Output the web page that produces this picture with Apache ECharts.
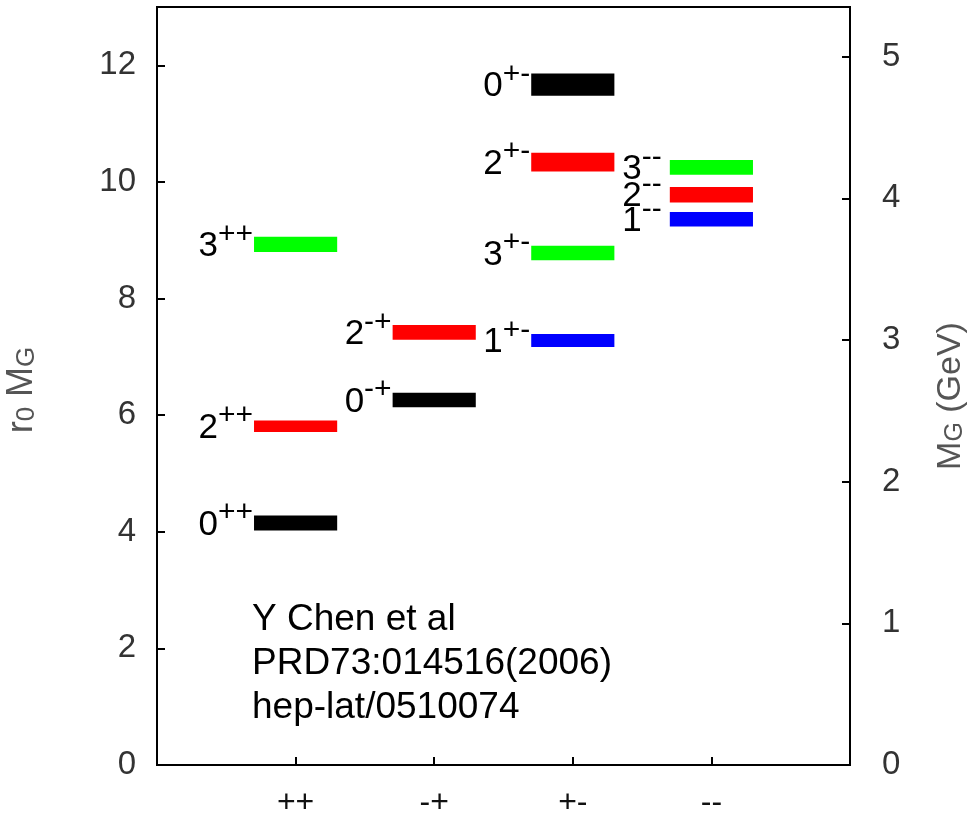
<!DOCTYPE html>
<html>
<head>
<meta charset="utf-8">
<script src="https://cdn.jsdelivr.net/npm/echarts@6/dist/echarts.min.js"></script>
<style>
html,body{margin:0;padding:0;background:#fff;overflow:hidden;}
#chart{width:973px;height:819px;}
</style>
</head>
<body>
<div id="chart"></div>
<script>
// ---- data ----
const categories = ['++', '-+', '+-', '--'];
const spins      = [0, 2, 3, 0, 2, 1, 3, 2, 0, 1, 2, 3];
const parities   = ['++', '++', '++', '-+', '-+', '+-', '+-', '+-', '+-', '--', '--', '--'];
const massR0     = [4.15, 5.81, 8.93, 6.26, 7.42, 7.28, 8.78, 10.34, 11.67, 9.36, 9.78, 10.25];
const errR0      = [0.13, 0.10, 0.13, 0.125, 0.125, 0.11, 0.125, 0.16, 0.19, 0.125, 0.133, 0.125];
const leftMax = 13;
const gevMax = 5.35;
const noteLines = ['Y Chen et al', 'PRD73:014516(2006)', 'hep-lat/0510074'];

// ---- styles ----
const FONT = "'Liberation Sans', Arial, Helvetica, sans-serif";
const MAIN_FS = 35, SUP_FS = 30;
const spinColors = {0: '#000000', 1: '#0000ff', 2: '#ff0000', 3: '#00ff00'};
const labelGap = {'++': 1, '-+': 1, '+-': 1, '--': 8};

const measureCtx = document.createElement('canvas').getContext('2d');
function textWidth(str, fs) {
  measureCtx.font = fs + 'px ' + FONT;
  return measureCtx.measureText(str).width;
}

const seriesData = massR0.map((m, i) => [categories.indexOf(parities[i]) + 1, m, errR0[i], i]);

const chart = echarts.init(document.getElementById('chart'), null, {renderer: 'canvas', width: 973, height: 819});

const option = {
  animation: false,
  backgroundColor: '#ffffff',
  grid: {left: 157, right: 123, top: 7, bottom: 48, show: true, borderColor: '#000', borderWidth: 2, containLabel: false},
  xAxis: {
    type: 'value', min: 0, max: 5, interval: 1,
    axisLine: {show: true, lineStyle: {color: '#000', width: 2}},
    axisTick: {show: true, inside: true, length: 8, lineStyle: {color: '#000', width: 2}},
    axisLabel: {
      margin: 22, fontSize: 32, fontFamily: FONT, color: '#111',
      formatter: v => (v >= 1 && v <= categories.length ? categories[v - 1] : '')
    },
    splitLine: {show: false}
  },
  yAxis: [
    {
      type: 'value', min: 0, max: leftMax, interval: 2, position: 'left',
      axisLine: {show: true, lineStyle: {color: '#000', width: 2}},
      axisTick: {show: true, inside: true, length: 8, lineStyle: {color: '#000', width: 2}},
      axisLabel: {margin: 21, fontSize: 33, fontFamily: FONT, color: '#333',
        formatter: v => (v % 2 === 0 ? String(v) : '')},
      splitLine: {show: false}
    },
    {
      type: 'value', min: 0, max: gevMax, interval: 1, position: 'right',
      axisLine: {show: true, lineStyle: {color: '#000', width: 2}},
      axisTick: {show: true, inside: true, length: 8, lineStyle: {color: '#000', width: 2}},
      axisLabel: {margin: 32, fontSize: 33, fontFamily: FONT, color: '#333',
        formatter: v => (Math.abs(v - Math.round(v)) < 1e-6 ? String(Math.round(v)) : '')},
      splitLine: {show: false}
    }
  ],
  graphic: [
    {
      type: 'text', x: 22, y: 390, rotation: Math.PI / 2,
      style: {
        text: 'r{sub|0} M{sub|G}', fill: '#555', font: '36px ' + FONT,
        align: 'center', verticalAlign: 'middle', lineHeight: 36,
        rich: {sub: {fontSize: 26, fontFamily: FONT, fill: '#555', verticalAlign: 'bottom', lineHeight: 4}}
      }
    },
    {
      type: 'text', x: 951, y: 396, rotation: Math.PI / 2,
      style: {
        text: 'M{sub|G} (GeV)', fill: '#555', font: '34px ' + FONT,
        align: 'center', verticalAlign: 'middle', lineHeight: 34,
        rich: {sub: {fontSize: 25, fontFamily: FONT, fill: '#555', verticalAlign: 'bottom', lineHeight: 4}}
      }
    },
    {
      type: 'text', x: 252, y: 598,
      style: {
        text: noteLines.join('\n'), fill: '#000', font: '37px ' + FONT,
        align: 'left', verticalAlign: 'top', lineHeight: 44
      }
    }
  ],
  series: [
    {
      type: 'custom',
      coordinateSystem: 'cartesian2d',
      xAxisIndex: 0, yAxisIndex: 0,
      clip: false,
      encode: {x: 0, y: 1},
      data: seriesData,
      renderItem: function (params, api) {
        const x = api.value(0), m = api.value(1), e = api.value(2), idx = api.value(3);
        const p1 = api.coord([x - 0.3, m + e]);
        const p2 = api.coord([x + 0.3, m - e]);
        const pc = parities[idx];
        const J = spins[idx];
        const cy = (p1[1] + p2[1]) / 2;
        const supRight = p1[0] - labelGap[pc];
        const supW = textWidth(pc, SUP_FS);
        return {
          type: 'group',
          children: [
            {
              type: 'rect',
              shape: {x: p1[0], y: p1[1], width: p2[0] - p1[0], height: p2[1] - p1[1]},
              style: {fill: spinColors[J]}
            },
            {
              type: 'text',
              style: {
                text: String(J), x: supRight - supW, y: cy + 2,
                align: 'right', verticalAlign: 'middle',
                font: MAIN_FS + 'px ' + FONT, fill: '#000'
              }
            },
            {
              type: 'text',
              style: {
                text: pc, x: supRight, y: cy - 10,
                align: 'right', verticalAlign: 'middle',
                font: SUP_FS + 'px ' + FONT, fill: '#000'
              }
            }
          ]
        };
      }
    }
  ]
};
chart.setOption(option);
</script>
</body>
</html>
